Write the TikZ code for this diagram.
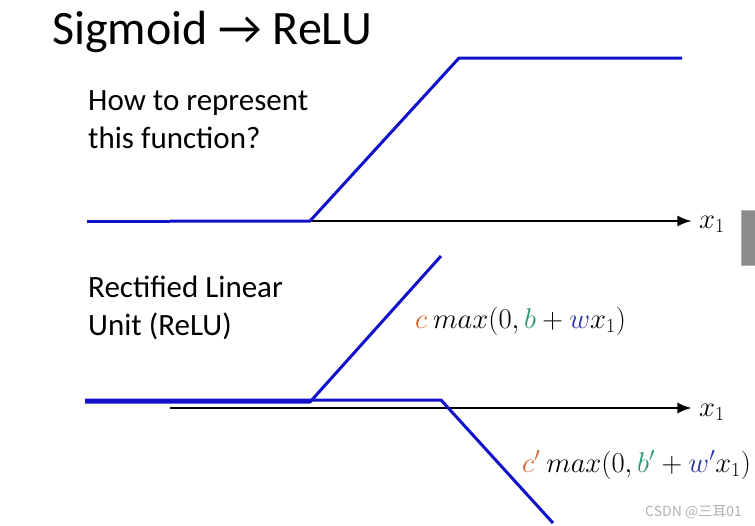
\documentclass[tikz,border=0pt]{standalone}
\usepackage{amsmath}
\usepackage{fontspec}
\setmainfont{Carlito}
\newfontfamily\cjkfont{Noto Sans CJK SC}
\usetikzlibrary{arrows,arrows.meta,calc}
\definecolor{relublue}{RGB}{18,18,205}
\definecolor{corange}{RGB}{214,98,40}
\definecolor{bgreen}{RGB}{38,150,110}
\definecolor{wblue}{RGB}{40,50,160}
\newcommand{\bigmath}[1]{\scalebox{1.15}{\fontsize{23}{23}\selectfont$#1$}}

\begin{document}
\begin{tikzpicture}[x=1pt,y=-1pt,
  curve/.style={line width=3pt,relublue,line join=round},
  axis/.style={-Latex,line width=2.6pt},
  txt/.style={anchor=base west,inner sep=0pt,font=\fontsize{31}{38}\selectfont,align=left},
  lab/.style={anchor=base west,inner sep=0pt}]
\useasboundingbox (0,0) rectangle (755,525);
% top: the function to represent
\coordinate (T0) at (87,221);
\coordinate (T1) at (310,221);
\coordinate (T2) at (459,58);
\coordinate (T3) at (682,58);
\coordinate (A0) at (170,221);
\coordinate (A1) at (692,221);
% bottom: two relus
\coordinate (R0) at (85,402);
\coordinate (R1) at (310,402);
\coordinate (R2) at (441,256);
\coordinate (S0) at (85,400);
\coordinate (S1) at (441,400);
\coordinate (S2) at (553,523);
\coordinate (B0) at (170,408);
\coordinate (B1) at (692,408);
\node[anchor=base west,inner sep=0pt,font=\fontsize{48}{48}\selectfont] (title) at (52,44) {Sigmoid \textrightarrow{} ReLU};
\node[txt] (q) at (88,148) {How to represent\\this function?};
\node[txt] (relu) at (88,335) {Rectified Linear\\Unit (ReLU)};
\draw[axis] (A0) -- (A1);
\draw[curve] (T0) -- (A0);
\draw[curve] (A0) -- (T1) -- (T2) -- (T3);
\draw[axis] (B0) -- (B1);
\draw[curve] (R0) -- (R1) -- (R2);
\draw[curve] (S0) -- (S1) -- (S2);
\node[anchor=west,inner sep=0pt] (x1a) at (699,224) {\bigmath{x_1}};
\node[anchor=west,inner sep=0pt] (x1b) at (699,412) {\bigmath{x_1}};
\node[lab] (f1) at (415,328)
  {\bigmath{\color{corange}c\ \color{black}max(0,\color{bgreen}b\color{black}+\color{wblue}w\color{black}x_1)}};
\node[lab] (f2) at (522,472)
  {\bigmath{\color{corange}c'\ \color{black}max(0,\color{bgreen}b'\color{black}+\color{wblue}w'\color{black}x_1)}};
\node[anchor=base east,inner sep=0pt,text=black!30,font=\cjkfont\fontsize{14}{14}\selectfont] (mark) at (742,516) {CSDN @三耳01};
\draw[fill=black!45,draw=black!30,line width=1pt] (741,210) rectangle (756,265);
\end{tikzpicture}
\end{document}
